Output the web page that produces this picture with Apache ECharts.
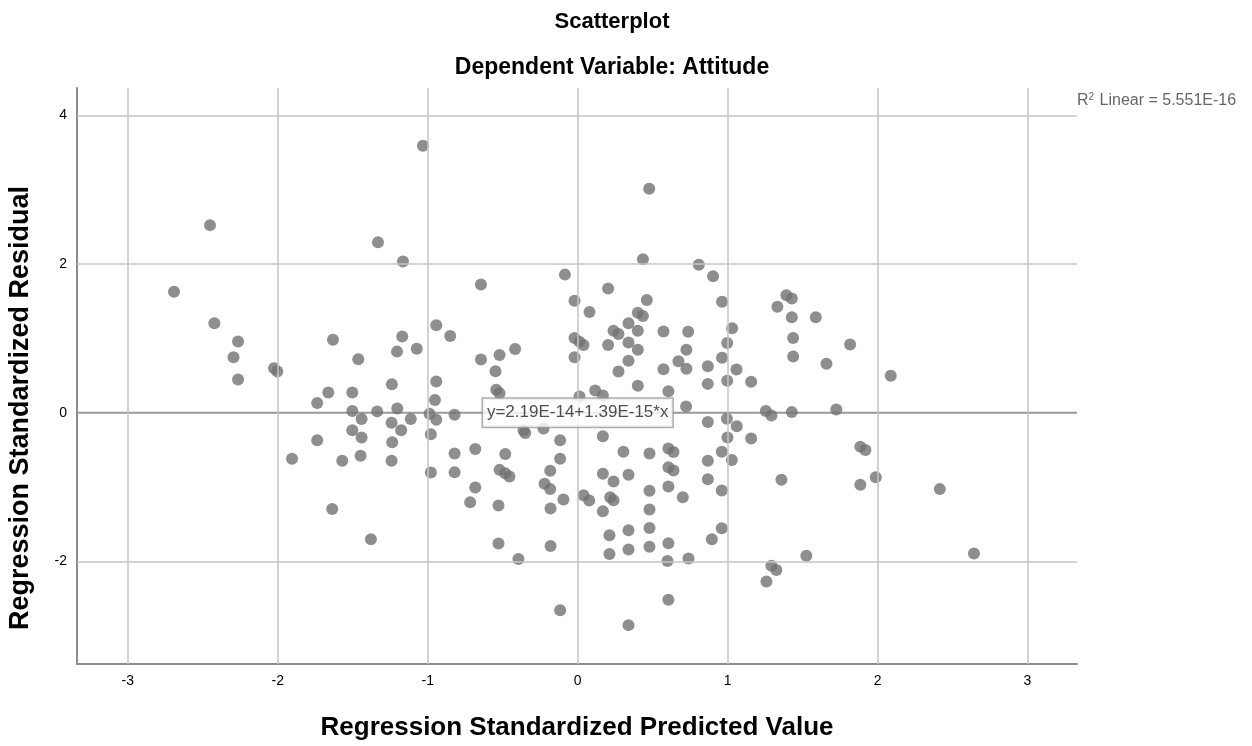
<!DOCTYPE html>
<html>
<head>
<meta charset="utf-8">
<script src="https://cdn.jsdelivr.net/npm/echarts@6/dist/echarts.min.js"></script>
<style>
html,body{margin:0;padding:0;background:#fff;}
#chart{width:1252px;height:746px;}
</style>
</head>
<body>
<div id="chart"></div>
<script>
// Regression Standardized Predicted Value (x)
var predicted = [
-2.692,-2.452,-2.423,-2.265,-2.295,-2.265,-2.025,-2.003,-1.905,-1.737,
-1.737,-1.663,-1.637,-1.632,-1.570,-1.503,-1.503,-1.503,-1.463,-1.441,
-1.441,-1.448,-1.379,-1.337,-1.332,-1.239,-1.241,-1.237,-1.241,-1.205,
-1.203,-1.177,-1.170,-1.165,-1.113,-1.073,-1.032,-0.988,-0.979,-0.979,
-0.952,-0.943,-0.943,-0.943,-0.850,-0.821,-0.821,-0.821,-0.717,-0.683,
-0.683,-0.645,-0.645,-0.548,-0.543,-0.521,-0.521,-0.528,-0.528,-0.521,
-0.483,-0.483,-0.455,-0.417,-0.395,-0.361,-0.350,-0.228,-0.221,-0.183,
-0.183,-0.181,-0.181,-0.117,-0.117,-0.095,-0.117,-0.085,-0.021,-0.021,
-0.021,0.012,0.039,0.012,0.039,0.077,0.079,0.117,0.168,0.168,
0.168,0.168,0.203,0.203,0.212,0.212,0.217,0.239,0.239,0.239,
0.272,0.272,0.305,0.339,0.339,0.339,0.339,0.339,0.339,0.339,
0.401,0.435,0.401,0.401,0.401,0.435,0.461,0.477,0.479,0.479,
0.479,0.479,0.479,0.572,0.572,0.599,0.605,0.605,0.639,0.605,
0.639,0.605,0.605,0.605,0.672,0.701,0.723,0.725,0.725,0.737,
0.739,0.808,0.868,0.868,0.868,0.868,0.868,0.895,0.903,0.961,
0.961,0.961,0.963,0.963,0.995,0.997,0.997,0.999,1.028,1.030,
1.059,1.061,1.157,1.157,1.255,1.292,1.259,1.292,1.325,1.332,
1.359,1.392,1.428,1.428,1.437,1.437,1.428,1.525,1.588,1.659,
1.725,1.817,1.885,1.919,1.885,1.988,2.088,2.415,2.643
];
// Regression Standardized Residual (y)
var residual = [
1.627,2.525,1.205,0.960,0.747,0.449,0.600,0.556,-0.617,0.133,
-0.368,0.272,-1.293,0.983,-0.644,0.272,0.023,-0.235,0.720,-0.084,
-0.333,-0.577,-1.701,0.019,2.293,0.383,-0.133,-0.395,-0.644,0.823,
0.059,-0.235,1.027,2.036,-0.084,0.863,3.592,-0.013,-0.288,-0.804,
0.173,1.179,0.420,-0.093,1.032,-0.027,-0.547,-0.800,-1.204,-0.488,
-1.004,1.725,0.716,0.560,0.309,0.263,0.779,-1.248,-1.760,-0.768,
-0.555,-0.813,-0.857,0.859,-1.968,-0.235,-0.271,-0.213,-0.955,-0.781,
-1.027,-1.288,-1.791,-0.368,-0.617,-1.168,-2.657,1.859,1.507,1.005,
0.747,0.956,0.912,0.219,-1.111,-1.181,1.356,0.299,0.232,-0.315,
-0.821,-1.324,1.672,0.912,-1.648,-1.901,-1.137,1.103,-0.924,-1.177,
1.059,0.556,-0.524,1.205,0.947,0.699,-0.835,-1.581,-1.840,-2.857,
1.347,1.303,1.103,0.849,0.363,2.067,1.516,3.013,-0.547,-1.048,
-1.301,-1.551,-1.804,1.093,0.587,-1.995,0.289,-0.480,-0.528,-0.733,
-0.777,-0.991,-1.755,-2.515,0.693,-1.137,0.085,0.849,0.592,1.089,
-1.960,1.992,0.627,0.389,-0.124,-0.644,-0.893,-1.701,1.836,-0.524,
-1.044,-1.555,1.493,0.739,-0.080,0.939,0.432,-0.333,-0.635,1.139,
0.583,-0.181,0.419,-0.347,0.023,-0.035,-2.271,-2.057,-2.115,1.427,
-0.901,1.583,1.539,1.285,1.005,0.756,0.009,-1.924,1.285,0.659,
0.045,0.920,-0.457,-0.501,-0.968,-0.867,0.499,-1.027,-1.893
];
var xTicks = [-3, -2, -1, 0, 1, 2, 3];
var yTicks = [-2, 0, 2, 4];
var fitIntercept = 2.19e-14;
var fitSlope = 1.39e-15;
var fitLabel = 'y=2.19E-14+1.39E-15*x';
var r2Label = 'Linear = 5.551E-16';
var titleText = 'Scatterplot';
var subtitleText = 'Dependent Variable: Attitude';
var xTitle = 'Regression Standardized Predicted Value';
var yTitle = 'Regression Standardized Residual';

var xMin = -3.339, xMax = 3.33, yMin = -3.38, yMax = 4.37;
var FONT = '"Liberation Sans", Arial, sans-serif';

var points = predicted.map(function (v, i) { return [v, residual[i]]; });
var gridMarks = xTicks.map(function (v) { return { xAxis: v }; })
  .concat(yTicks.filter(function (v) { return v !== 0; }).map(function (v) { return { yAxis: v }; }));

var chart = echarts.init(document.getElementById('chart'), null, { renderer: 'canvas' });
chart.setOption({
  backgroundColor: '#ffffff',
  animation: false,
  textStyle: { fontFamily: FONT },
  grid: { left: 77, right: 175, top: 88, bottom: 77, containLabel: false },
  graphic: [
    { type: 'text', x: 612, y: 22, style: { text: titleText, font: 'bold 22px ' + FONT, fill: '#000', align: 'center', verticalAlign: 'middle' } },
    { type: 'text', x: 612, y: 68, style: { text: subtitleText, font: 'bold 23px ' + FONT, fill: '#000', align: 'center', verticalAlign: 'middle' } },
    { type: 'text', x: 21, y: 408, rotation: Math.PI / 2,
      style: { text: yTitle, font: 'bold 27px ' + FONT, fill: '#000', align: 'center', verticalAlign: 'middle' } },
    { type: 'text', x: 1077, y: 101, style: {
        rich: {
          r: { fontSize: 16, fontFamily: FONT, color: '#666' },
          s: { fontSize: 10, fontFamily: FONT, color: '#666', padding: [0, 1, 8, 0] }
        },
        text: '{r|R}{s|2}{r| ' + r2Label + '}', verticalAlign: 'middle', fill: '#666'
      } }
  ],
  xAxis: {
    type: 'value', min: xMin, max: xMax,
    name: xTitle, nameLocation: 'middle', nameGap: 51,
    nameTextStyle: { fontFamily: FONT, fontWeight: 'bold', fontSize: 26, color: '#000' },
    axisLine: { show: true, onZero: false, lineStyle: { color: '#8c8c8c', width: 2 } },
    axisTick: { show: false },
    splitLine: { show: false },
    axisLabel: { customValues: xTicks, color: '#000', fontSize: 14, margin: 10, fontFamily: FONT }
  },
  yAxis: {
    type: 'value', min: yMin, max: yMax,
    axisLine: { show: true, onZero: false, lineStyle: { color: '#8c8c8c', width: 2 } },
    axisTick: { show: false },
    splitLine: { show: false },
    axisLabel: { customValues: yTicks, color: '#000', fontSize: 14, margin: 10, fontFamily: FONT }
  },
  series: [
    {
      type: 'scatter', data: [], z: 1, silent: true,
      markLine: {
        silent: true, symbol: 'none', label: { show: false },
        lineStyle: { color: '#c4c4c4', width: 1.5, type: 'solid' },
        data: gridMarks
      }
    },
    {
      type: 'line', z: 2, silent: true, symbol: 'none',
      lineStyle: { color: '#999999', width: 2 },
      data: [[xMin, fitIntercept + fitSlope * xMin], [xMax, fitIntercept + fitSlope * xMax]]
    },
    {
      type: 'scatter', z: 3, symbol: 'circle', symbolSize: 12,
      itemStyle: { color: '#727272' },
      data: points
    },
    {
      type: 'scatter', z: 5, symbolSize: 0, silent: true,
      data: [[0.0, fitIntercept]],
      label: {
        show: true, position: 'inside', formatter: fitLabel,
        color: '#222', fontSize: 17, fontFamily: FONT,
        backgroundColor: '#ffffff', borderColor: '#9a9a9a', borderWidth: 1.5,
        padding: [6, 4, 5, 4]
      }
    }
  ]
});
</script>
</body>
</html>
